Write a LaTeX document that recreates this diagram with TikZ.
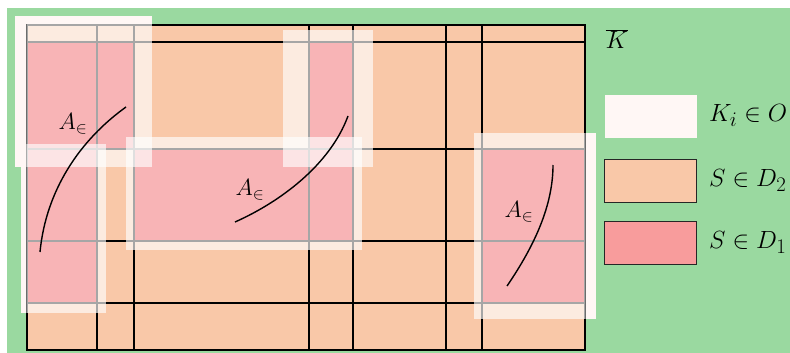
\RequirePackage{fix-cm}
\documentclass[tikz,border=0pt]{standalone}
\definecolor{bggreen}{RGB}{154,217,160}
\definecolor{cellorange}{RGB}{249,200,168}
\definecolor{cellpink}{RGB}{235,41,46}
\definecolor{legpink}{RGB}{248,156,156}
\definecolor{ovlwhite}{RGB}{255,247,245}
\begin{document}
\begin{tikzpicture}[x=1pt,y=-1pt,
  gridline/.style={black,line width=1.2pt},
  ovl/.style={fill=white,fill opacity=0.65},
  curveline/.style={black,line width=1.4pt},
  lbl/.style={inner sep=0pt,font=\Huge},
  albl/.style={inner sep=0pt,font=\fontsize{23.5}{28}\selectfont},
  legbox/.style={draw=black!85,line width=1.2pt,minimum width=92pt,minimum height=43pt,inner sep=0pt,anchor=north west},
]
\useasboundingbox (0,0) rectangle (790,353);
\fill[bggreen] (7,8) rectangle (790,353);
% overlay parts lying on the green background
\foreach \a/\b/\c/\d in {15/16/152/167, 21/144/106/313, 126/137/362/250, 283/30/373/167, 474/133/596/319}
  \fill[ovlwhite] (\a,\b) rectangle (\c,\d);
% grid cells
\fill[cellorange] (27,25) rectangle (585,350);
\fill[cellpink] (27,42) rectangle (134,149);
\fill[cellpink] (27,149) rectangle (97,303);
\fill[cellpink] (309,42) rectangle (353,149);
\fill[cellpink] (134,149) rectangle (353,241);
\fill[cellpink] (482,149) rectangle (585,303);
% grid lines
\foreach \x in {97,134,309,353,446,482} \draw[gridline] (\x,25) -- (\x,350);
\foreach \y in {42,149,241,303} \draw[gridline] (27,\y) -- (585,\y);
\draw[gridline] (27,25) rectangle (585,350);
% translucent overlays on the grid
\begin{scope}
  \clip (26.4,24.4) rectangle (585.6,350.6);
  \foreach \a/\b/\c/\d in {15/16/152/167, 21/144/106/313, 126/137/362/250, 283/30/373/167, 474/133/596/319}
    \fill[ovl] (\a,\b) rectangle (\c,\d);
\end{scope}
% curves
\coordinate (c1s) at (40,252); \coordinate (c1e) at (126,107);
\coordinate (c2s) at (235,222); \coordinate (c2e) at (348,116);
\coordinate (c3s) at (507,286); \coordinate (c3e) at (553,165);
\draw[curveline] (c1s) .. controls (46,190) and (80,140) .. (c1e);
\draw[curveline] (c2s) .. controls (280,202) and (330,165) .. (c2e);
\draw[curveline] (c3s) .. controls (535,245) and (553,205) .. (c3e);
\node[albl] (a1) at (73,124) {$A_\in$};
\node[albl] (a2) at (250,190) {$A_\in$};
\node[albl] (a3) at (519,212) {$A_\in$};
\node[lbl] (kbar) at (617,39) {$\overline{K}$};
% legend
\node[legbox, draw=none, fill=ovlwhite] (legO) at (604,94) {};
\node[legbox, fill=cellorange] (legD2) at (604,159) {};
\node[legbox, fill=legpink] (legD1) at (604,221) {};
\node[lbl, anchor=west] (tO) at (709,115.5) {$K_i\in O$};
\node[lbl, anchor=west] (tD2) at (709,180.5) {$S\in D_2$};
\node[lbl, anchor=west] (tD1) at (709,242.5) {$S\in D_1$};
\end{tikzpicture}
\end{document}
